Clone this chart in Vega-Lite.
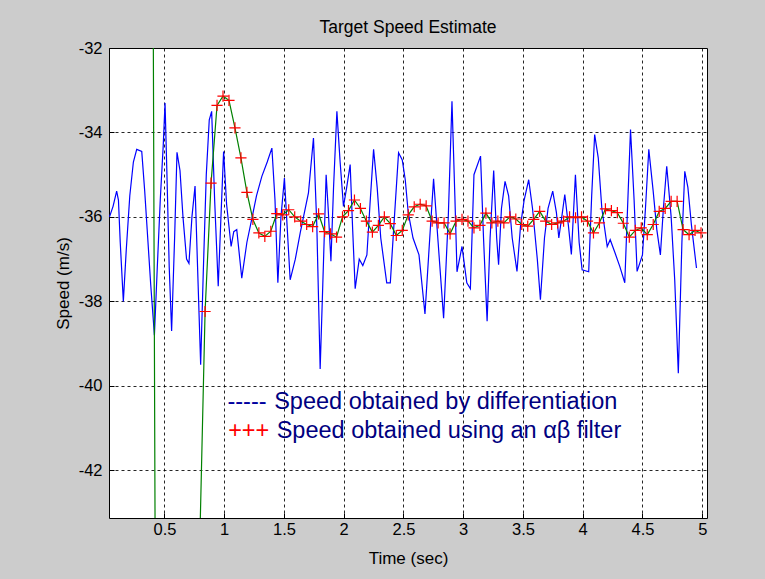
{
  "$schema": "https://vega.github.io/schema/vega-lite/v6.json",
  "width": 598,
  "height": 470,
  "autosize": {"type": "none"},
  "padding": {"left": 109, "top": 48, "right": 58, "bottom": 61},
  "background": "#cccccc",
  "config": {
    "view": {"fill": "white", "stroke": "black", "strokeWidth": 1},
    "font": "Liberation Sans",
    "axis": {
      "grid": true,
      "gridColor": "black",
      "gridDash": [3, 3],
      "gridOpacity": 0.85,
      "domain": false,
      "ticks": true,
      "tickSize": -5,
      "tickColor": "black",
      "labelFont": "Liberation Sans",
      "labelFontSize": 16.5,
      "labelColor": "black",
      "titleFont": "Liberation Sans",
      "titleFontSize": 17,
      "titleFontWeight": "normal",
      "titleColor": "black",
      "titleBaseline": "alphabetic",
      "labelExpr": "'' + datum.value"
    }
  },
  "title": {
    "text": "Target Speed Estimate",
    "font": "Liberation Sans",
    "fontSize": 17.5,
    "fontWeight": "normal",
    "color": "black",
    "baseline": "alphabetic",
    "anchor": "middle",
    "offset": 15,
    "dy": 25
  },
  "datasets": {
    "diff": [
      {"t": 0.04, "v": -36.0}, {"t": 0.07, "v": -35.75}, {"t": 0.1, "v": -35.39}, {"t": 0.115, "v": -35.6},
      {"t": 0.13, "v": -36.6}, {"t": 0.156, "v": -38.0}, {"t": 0.18, "v": -36.8}, {"t": 0.21, "v": -35.5},
      {"t": 0.24, "v": -34.7}, {"t": 0.268, "v": -34.4}, {"t": 0.31, "v": -34.45}, {"t": 0.335, "v": -35.4},
      {"t": 0.36, "v": -36.5}, {"t": 0.385, "v": -37.6}, {"t": 0.416, "v": -38.8}, {"t": 0.44, "v": -37.2},
      {"t": 0.465, "v": -35.6}, {"t": 0.49, "v": -34.3}, {"t": 0.505, "v": -33.3}, {"t": 0.52, "v": -34.9},
      {"t": 0.54, "v": -37.2}, {"t": 0.56, "v": -38.7}, {"t": 0.585, "v": -36.5}, {"t": 0.605, "v": -34.47},
      {"t": 0.63, "v": -34.9}, {"t": 0.655, "v": -36.0}, {"t": 0.685, "v": -37.0}, {"t": 0.705, "v": -37.1},
      {"t": 0.73, "v": -36.0}, {"t": 0.756, "v": -35.27}, {"t": 0.775, "v": -37.0}, {"t": 0.803, "v": -39.5},
      {"t": 0.825, "v": -37.3}, {"t": 0.85, "v": -35.0}, {"t": 0.875, "v": -33.7}, {"t": 0.895, "v": -33.5},
      {"t": 0.92, "v": -35.6}, {"t": 0.95, "v": -37.64}, {"t": 0.97, "v": -36.2}, {"t": 0.995, "v": -34.45},
      {"t": 1.02, "v": -35.7}, {"t": 1.058, "v": -36.7}, {"t": 1.08, "v": -36.35}, {"t": 1.105, "v": -36.3},
      {"t": 1.147, "v": -37.45}, {"t": 1.19, "v": -36.6}, {"t": 1.23, "v": -36.06}, {"t": 1.27, "v": -35.5},
      {"t": 1.315, "v": -35.04}, {"t": 1.36, "v": -34.7}, {"t": 1.399, "v": -34.37}, {"t": 1.425, "v": -35.6},
      {"t": 1.449, "v": -37.56}, {"t": 1.475, "v": -36.0}, {"t": 1.504, "v": -35.08}, {"t": 1.53, "v": -36.4},
      {"t": 1.552, "v": -37.49}, {"t": 1.595, "v": -37.0}, {"t": 1.636, "v": -36.38}, {"t": 1.705, "v": -35.43},
      {"t": 1.747, "v": -34.13}, {"t": 1.775, "v": -36.2}, {"t": 1.803, "v": -39.6}, {"t": 1.825, "v": -37.6},
      {"t": 1.853, "v": -35.0}, {"t": 1.87, "v": -35.8}, {"t": 1.893, "v": -37.05}, {"t": 1.915, "v": -35.3},
      {"t": 1.943, "v": -33.5}, {"t": 1.97, "v": -34.7}, {"t": 1.998, "v": -35.75}, {"t": 2.025, "v": -35.3},
      {"t": 2.054, "v": -34.76}, {"t": 2.075, "v": -36.3}, {"t": 2.096, "v": -37.7}, {"t": 2.13, "v": -37.0},
      {"t": 2.16, "v": -37.15}, {"t": 2.194, "v": -36.9}, {"t": 2.22, "v": -35.7}, {"t": 2.25, "v": -34.4},
      {"t": 2.28, "v": -35.3}, {"t": 2.31, "v": -36.5}, {"t": 2.36, "v": -37.56}, {"t": 2.39, "v": -37.56},
      {"t": 2.42, "v": -36.2}, {"t": 2.459, "v": -34.48}, {"t": 2.49, "v": -34.65}, {"t": 2.515, "v": -35.12},
      {"t": 2.54, "v": -35.9}, {"t": 2.58, "v": -36.5}, {"t": 2.63, "v": -36.9}, {"t": 2.68, "v": -38.3},
      {"t": 2.72, "v": -36.5}, {"t": 2.752, "v": -35.1}, {"t": 2.79, "v": -36.6}, {"t": 2.836, "v": -38.4},
      {"t": 2.875, "v": -36.0}, {"t": 2.906, "v": -33.26}, {"t": 2.93, "v": -35.5}, {"t": 2.948, "v": -37.3},
      {"t": 2.99, "v": -36.7}, {"t": 3.03, "v": -37.56}, {"t": 3.06, "v": -37.7}, {"t": 3.09, "v": -35.0},
      {"t": 3.115, "v": -34.8}, {"t": 3.145, "v": -34.56}, {"t": 3.17, "v": -36.5}, {"t": 3.2, "v": -38.47},
      {"t": 3.225, "v": -36.5}, {"t": 3.255, "v": -34.9}, {"t": 3.28, "v": -36.5}, {"t": 3.296, "v": -37.13},
      {"t": 3.32, "v": -35.8}, {"t": 3.35, "v": -35.16}, {"t": 3.38, "v": -35.5}, {"t": 3.41, "v": -36.5},
      {"t": 3.45, "v": -37.29}, {"t": 3.48, "v": -36.2}, {"t": 3.51, "v": -35.6}, {"t": 3.548, "v": -35.12},
      {"t": 3.58, "v": -35.8}, {"t": 3.62, "v": -37.0}, {"t": 3.646, "v": -37.96}, {"t": 3.68, "v": -36.5},
      {"t": 3.71, "v": -35.8}, {"t": 3.749, "v": -35.39}, {"t": 3.78, "v": -35.9}, {"t": 3.8, "v": -36.5},
      {"t": 3.825, "v": -36.0}, {"t": 3.85, "v": -35.47}, {"t": 3.88, "v": -36.2}, {"t": 3.905, "v": -36.89},
      {"t": 3.939, "v": -35.0}, {"t": 3.97, "v": -36.6}, {"t": 3.995, "v": -37.25}, {"t": 4.05, "v": -37.3},
      {"t": 4.075, "v": -35.5}, {"t": 4.1, "v": -34.05}, {"t": 4.13, "v": -34.6}, {"t": 4.16, "v": -35.8},
      {"t": 4.205, "v": -36.7}, {"t": 4.23, "v": -36.54}, {"t": 4.27, "v": -36.85}, {"t": 4.31, "v": -37.17},
      {"t": 4.352, "v": -37.56}, {"t": 4.375, "v": -35.8}, {"t": 4.4, "v": -33.93}, {"t": 4.43, "v": -35.6},
      {"t": 4.455, "v": -37.29}, {"t": 4.5, "v": -36.9}, {"t": 4.525, "v": -35.8}, {"t": 4.553, "v": -34.4},
      {"t": 4.59, "v": -35.4}, {"t": 4.62, "v": -36.3}, {"t": 4.65, "v": -36.9}, {"t": 4.675, "v": -35.8},
      {"t": 4.703, "v": -34.8}, {"t": 4.74, "v": -36.0}, {"t": 4.77, "v": -37.5}, {"t": 4.8, "v": -39.7},
      {"t": 4.83, "v": -36.6}, {"t": 4.854, "v": -34.92}, {"t": 4.88, "v": -35.3}, {"t": 4.91, "v": -36.2},
      {"t": 4.952, "v": -37.21}
    ],
    "filter": [
      {"t": 0.34, "v": -15.0}, {"t": 0.39, "v": -18.5}, {"t": 0.44, "v": -58.0}, {"t": 0.54, "v": -72.0},
      {"t": 0.64, "v": -65.0}, {"t": 0.74, "v": -50.6}, {"t": 0.79, "v": -44.4},
      {"t": 0.84, "v": -38.24}, {"t": 0.89, "v": -35.2}, {"t": 0.94, "v": -33.36}, {"t": 0.99, "v": -33.14},
      {"t": 1.04, "v": -33.24}, {"t": 1.09, "v": -33.89}, {"t": 1.14, "v": -34.6}, {"t": 1.19, "v": -35.42},
      {"t": 1.24, "v": -36.06}, {"t": 1.29, "v": -36.38}, {"t": 1.34, "v": -36.46}, {"t": 1.39, "v": -36.34},
      {"t": 1.44, "v": -35.92}, {"t": 1.49, "v": -35.95}, {"t": 1.54, "v": -35.83}, {"t": 1.59, "v": -36.0},
      {"t": 1.64, "v": -36.1}, {"t": 1.69, "v": -36.18}, {"t": 1.74, "v": -36.23}, {"t": 1.79, "v": -35.93},
      {"t": 1.84, "v": -36.35}, {"t": 1.89, "v": -36.4}, {"t": 1.94, "v": -36.48}, {"t": 1.99, "v": -36.0},
      {"t": 2.04, "v": -35.85}, {"t": 2.09, "v": -35.6}, {"t": 2.14, "v": -35.8}, {"t": 2.19, "v": -36.1},
      {"t": 2.24, "v": -36.36}, {"t": 2.29, "v": -36.2}, {"t": 2.34, "v": -36.0}, {"t": 2.39, "v": -36.16},
      {"t": 2.44, "v": -36.44}, {"t": 2.49, "v": -36.32}, {"t": 2.54, "v": -35.95}, {"t": 2.59, "v": -35.76},
      {"t": 2.64, "v": -35.7}, {"t": 2.69, "v": -35.74}, {"t": 2.74, "v": -36.1}, {"t": 2.79, "v": -36.14},
      {"t": 2.84, "v": -36.14}, {"t": 2.89, "v": -36.4}, {"t": 2.94, "v": -36.1}, {"t": 2.99, "v": -36.06},
      {"t": 3.04, "v": -36.1}, {"t": 3.09, "v": -36.26}, {"t": 3.14, "v": -36.2}, {"t": 3.19, "v": -35.91},
      {"t": 3.24, "v": -36.14}, {"t": 3.29, "v": -36.1}, {"t": 3.34, "v": -36.14}, {"t": 3.39, "v": -36.0},
      {"t": 3.44, "v": -36.05}, {"t": 3.49, "v": -36.18}, {"t": 3.54, "v": -36.22}, {"t": 3.59, "v": -36.06},
      {"t": 3.64, "v": -35.87}, {"t": 3.69, "v": -36.1}, {"t": 3.74, "v": -36.18}, {"t": 3.79, "v": -36.14},
      {"t": 3.84, "v": -36.1}, {"t": 3.89, "v": -36.0}, {"t": 3.94, "v": -36.02}, {"t": 3.99, "v": -36.0},
      {"t": 4.04, "v": -36.1}, {"t": 4.09, "v": -36.38}, {"t": 4.14, "v": -36.14}, {"t": 4.19, "v": -35.81},
      {"t": 4.24, "v": -35.85}, {"t": 4.29, "v": -35.9}, {"t": 4.34, "v": -36.15}, {"t": 4.39, "v": -36.48},
      {"t": 4.44, "v": -36.32}, {"t": 4.49, "v": -36.26}, {"t": 4.54, "v": -36.42}, {"t": 4.59, "v": -36.18},
      {"t": 4.64, "v": -35.87}, {"t": 4.69, "v": -35.8}, {"t": 4.74, "v": -35.63}, {"t": 4.79, "v": -35.63},
      {"t": 4.84, "v": -36.3}, {"t": 4.89, "v": -36.42}, {"t": 4.94, "v": -36.32}, {"t": 4.99, "v": -36.38}
    ]
  },
  "layer": [
    {
      "data": {"name": "diff"},
      "mark": {"type": "line", "color": "#0000ff", "strokeWidth": 1.2, "clip": true},
      "encoding": {
        "x": {
          "field": "t", "type": "quantitative",
          "scale": {"domain": [0.036, 5.04], "nice": false, "zero": false},
          "axis": {
            "title": "Time (sec)",
            "values": [0.5, 1, 1.5, 2, 2.5, 3, 3.5, 4, 4.5, 5],
            "labelPadding": 8,
            "titleX": 299,
            "titleY": 45
          }
        },
        "y": {
          "field": "v", "type": "quantitative",
          "scale": {"domain": [-43.13, -32], "nice": false, "zero": false},
          "axis": {
            "title": "Speed (m/s)",
            "values": [-42, -40, -38, -36, -34, -32],
            "labelPadding": 12,
            "titleX": -41,
            "titleY": 235
          }
        }
      }
    },
    {
      "data": {"name": "filter"},
      "mark": {"type": "line", "color": "#008000", "strokeWidth": 1.2, "clip": true},
      "encoding": {
        "x": {"field": "t", "type": "quantitative"},
        "y": {"field": "v", "type": "quantitative"}
      }
    },
    {
      "data": {"name": "filter"},
      "transform": [{"filter": "datum.t >= 0.83"}],
      "mark": {"type": "point", "shape": "M-1,0L1,0M0,-1L0,1", "filled": false, "stroke": "#ff0000", "strokeWidth": 1.2, "size": 125, "opacity": 1, "clip": true},
      "encoding": {
        "x": {"field": "t", "type": "quantitative"},
        "y": {"field": "v", "type": "quantitative"}
      }
    },
    {
      "data": {"values": [{"label": "-----"}]},
      "mark": {"type": "text", "align": "left", "baseline": "alphabetic", "font": "Liberation Sans", "fontSize": 23.5, "color": "#0000a0"},
      "encoding": {"x": {"datum": 1.027}, "y": {"datum": -40.55}, "text": {"field": "label"}}
    },
    {
      "data": {"values": [{"label": "Speed obtained by differentiation"}]},
      "mark": {"type": "text", "align": "left", "baseline": "alphabetic", "font": "Liberation Sans", "fontSize": 23.5, "color": "#000080"},
      "encoding": {"x": {"datum": 1.418}, "y": {"datum": -40.55}, "text": {"field": "label"}}
    },
    {
      "data": {"values": [{"label": "+++"}]},
      "mark": {"type": "text", "align": "left", "baseline": "alphabetic", "font": "Liberation Sans", "fontSize": 23.5, "color": "#ff0000"},
      "encoding": {"x": {"datum": 1.033}, "y": {"datum": -41.237}, "text": {"field": "label"}}
    },
    {
      "data": {"values": [{"label": "Speed obtained using an αβ filter"}]},
      "mark": {"type": "text", "align": "left", "baseline": "alphabetic", "font": "Liberation Sans", "fontSize": 23.5, "color": "#000080"},
      "encoding": {"x": {"datum": 1.439}, "y": {"datum": -41.237}, "text": {"field": "label"}}
    }
  ]
}
